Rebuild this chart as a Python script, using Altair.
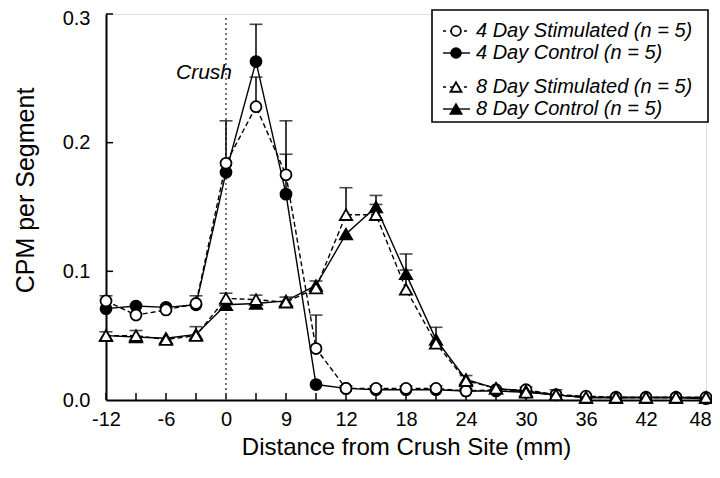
import altair as alt
import pandas as pd

# ---------------- data ----------------
distance_mm = [-12, -9, -6, -3, 0, 3, 6, 9, 12, 15, 18, 21, 24, 27, 30, 33, 36, 39, 42, 45, 48]

stim4 = [0.077, 0.066, 0.070, 0.075, 0.184, 0.228, 0.175, 0.040, 0.009, 0.009, 0.009, 0.009, 0.007,
         0.008, 0.008, 0.004, 0.003, 0.002, 0.002, 0.002, 0.002]
se_stim4 = [0.004, 0.0, 0.0, 0.006, 0.033, 0.023, 0.042, 0.026, 0.002, 0.002, 0.002, 0.002, 0.002,
            0.0, 0.002, 0.0, 0.0, 0.0, 0.0, 0.0, 0.0]

ctrl4 = [0.071, 0.073, 0.072, 0.074, 0.177, 0.263, 0.160, 0.012, 0.009, 0.008, 0.008, 0.008, 0.007,
         0.007, 0.006, 0.004, 0.002, 0.002, 0.002, 0.002, 0.001]
se_ctrl4 = [0.0, 0.0, 0.0, 0.0, 0.0, 0.029, 0.031, 0.0, 0.0, 0.0, 0.0, 0.0, 0.0,
            0.0, 0.0, 0.0, 0.0, 0.0, 0.0, 0.0, 0.0]

stim8 = [0.050, 0.050, 0.047, 0.050, 0.079, 0.078, 0.076, 0.087, 0.144, 0.144, 0.086, 0.044, 0.015,
         0.009, 0.006, 0.004, 0.002, 0.002, 0.002, 0.002, 0.002]
se_stim8 = [0.003, 0.004, 0.0, 0.007, 0.004, 0.0035, 0.004, 0.0055, 0.021, 0.008, 0.015, 0.0, 0.0,
            0.0, 0.0, 0.004, 0.0, 0.0, 0.0, 0.0, 0.0]

ctrl8 = [0.050, 0.049, 0.048, 0.051, 0.074, 0.075, 0.077, 0.089, 0.129, 0.150, 0.098, 0.047, 0.016,
         0.009, 0.007, 0.004, 0.002, 0.002, 0.002, 0.002, 0.002]
se_ctrl8 = [0.0, 0.0, 0.0, 0.0, 0.0, 0.0, 0.0, 0.0, 0.0, 0.009, 0.0155, 0.0095, 0.003,
            0.0, 0.0, 0.0, 0.0, 0.0, 0.0, 0.0, 0.0]

x_tick_values = [-12, -6, 0, 6, 12, 18, 24, 30, 36, 42, 48]
x_tick_labels = ["-12", "-6", "0", "9", "12", "18", "24", "30", "36", "42", "48"]
y_tick_values = [0.0, 0.1, 0.2, 0.3]

crush_x = [0]
crush_top = [0.298]
crush_label_y = [0.254]

labels = {
    "s4": "4 Day Stimulated (n = 5)",
    "c4": "4 Day Control (n = 5)",
    "s8": "8 Day Stimulated (n = 5)",
    "c8": "8 Day Control (n = 5)",
}

# ---------------- layout / style ----------------
W, H = 600, 386
FONT = "Liberation Sans"
DASH = [5, 3]

label_expr = "".join(f"datum.value == {v} ? '{l}' : " for v, l in zip(x_tick_values, x_tick_labels)) + "''"

x_scale = alt.Scale(domain=[-12, 48], nice=False, zero=False)
y_scale = alt.Scale(domain=[0, 0.3], nice=False, zero=True)

x_axis = alt.Axis(values=x_tick_values, labelExpr=label_expr, ticks=False, grid=False,
                  domainColor="black", domainWidth=2, labelFont=FONT, labelFontSize=20,
                  labelColor="black", labelPadding=9, labelFlush=False,
                  labelOffset={"condition": {"test": "datum.value >= 47", "value": -6}, "value": 0},
                  title="Distance from Crush Site (mm)", titleFont=FONT, titleFontSize=24,
                  titleFontWeight="normal", titleColor="black", titlePadding=6)
y_axis = alt.Axis(values=y_tick_values, format=".1f", ticks=False, grid=False,
                  domainColor="black", domainWidth=2, labelFont=FONT, labelFontSize=20,
                  labelColor="black", labelPadding=16, labelFlush=False,
                  labelOffset={"condition": {"test": "datum.value >= 0.25", "value": 4}, "value": 0},
                  title="CPM per Segment", titleFont=FONT, titleFontSize=25,
                  titleFontWeight="normal", titleColor="black", titlePadding=24, titleY=176)


def X(field="x"):
    return alt.X(f"{field}:Q", scale=x_scale, axis=x_axis)


def Y(field="y"):
    return alt.Y(f"{field}:Q", scale=y_scale, axis=y_axis)


layers = []

# axis ticks drawn inward
xt = pd.DataFrame({"x": distance_mm})
layers.append(alt.Chart(xt).mark_rule(color="black", strokeWidth=1.5).encode(
    x=X(), y=alt.value(H), y2=alt.value(H - 7)))
yt = pd.DataFrame({"y": y_tick_values[1:]})
layers.append(alt.Chart(yt).mark_rule(color="black", strokeWidth=1.5).encode(
    y=Y(), x=alt.value(0), x2=alt.value(7)))

# crush line and label
cr = pd.DataFrame({"x": crush_x, "y0": [0], "y1": crush_top, "ly": crush_label_y, "t": ["Crush"]})
layers.append(alt.Chart(cr).mark_rule(color="#555555", strokeWidth=1.6, strokeDash=[2, 3]).encode(
    x=X(), y=Y("y0"), y2="y1:Q"))
layers.append(alt.Chart(cr).mark_text(font=FONT, fontSize=21, fontStyle="italic", align="right",
                                      baseline="middle", dx=6, color="black").encode(
    x=X(), y=Y("ly"), text="t:N"))

series = [
    ("c4", ctrl4, se_ctrl4, "circle", True, False, 120),
    ("s4", stim4, se_stim4, "circle", False, True, 120),
    ("c8", ctrl8, se_ctrl8, "triangle-up", True, False, 150),
    ("s8", stim8, se_stim8, "triangle-up", False, True, 150),
]


def point_kw(shape, filled, size):
    return dict(shape=shape, size=size, filled=True,
                fill="black" if filled else "white", stroke="black",
                strokeWidth=1.8, opacity=1)


for key, vals, se, shape, filled, dashed, size in series:
    df = pd.DataFrame({"x": distance_mm, "y": vals, "se": se})
    df["upper"] = df["y"] + df["se"]
    line_kw = dict(color="black", strokeWidth=1.4)
    if dashed:
        line_kw["strokeDash"] = DASH
    layers.append(alt.Chart(df).mark_line(**line_kw).encode(x=X(), y=Y()))
    eb = df[df["se"] > 0]
    layers.append(alt.Chart(eb).mark_rule(color="black", strokeWidth=1.5).encode(
        x=X(), y=Y(), y2="upper:Q"))
    layers.append(alt.Chart(eb).mark_tick(orient="horizontal", size=13, thickness=1.6,
                                          color="black").encode(x=X(), y=Y("upper")))
    layers.append(alt.Chart(df).mark_point(**point_kw(shape, filled, size)).encode(x=X(), y=Y()))

# ---------------- legend (box + rows) ----------------
box = pd.DataFrame({"k": [0]})
layers.append(alt.Chart(box).mark_rect(fill="white", stroke="black", strokeWidth=1.6).encode(
    x=alt.value(326), x2=alt.value(602), y=alt.value(-4), y2=alt.value(108)))

legend_rows = ["s4", "c4", "s8", "c8"]
row_y = [17, 39, 73, 95]
style = {k: (shape, filled, dashed, size) for k, _, _, shape, filled, dashed, size in series}
for key, ly in zip(legend_rows, row_y):
    shape, filled, dashed, size = style[key]
    d = pd.DataFrame({"label": [labels[key]]})
    rk = dict(color="black", strokeWidth=1.4)
    if dashed:
        rk["strokeDash"] = [3, 4]
    layers.append(alt.Chart(d).mark_rule(**rk).encode(
        x=alt.value(337), x2=alt.value(364), y=alt.value(ly)))
    layers.append(alt.Chart(d).mark_point(**point_kw(shape, filled, size * 0.8)).encode(
        x=alt.value(350), y=alt.value(ly)))
    layers.append(alt.Chart(d).mark_text(font=FONT, fontSize=20, fontStyle="italic", align="left",
                                         baseline="middle", color="black").encode(
        x=alt.value(370), y=alt.value(ly), text="label:N"))

chart = alt.layer(*layers).properties(
    width=W, height=H,
    autosize=alt.AutoSizeParams(type="none"),
    padding={"left": 98, "top": 6, "right": 6, "bottom": 64},
).configure_view(stroke=None).configure(background="white")

chart.save("out.html", embed_options={"renderer": "svg", "actions": False})
